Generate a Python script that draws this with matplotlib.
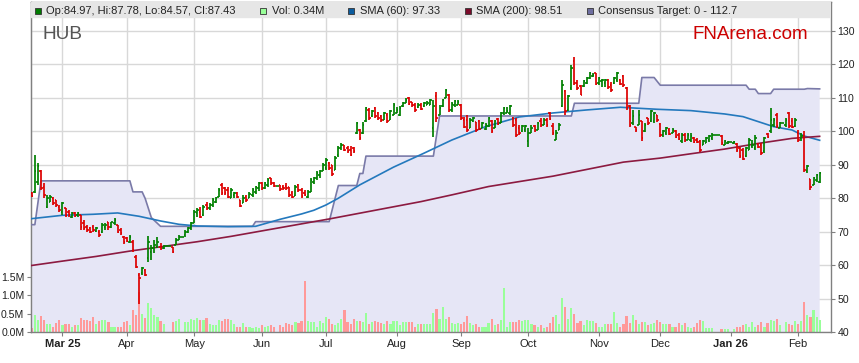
import matplotlib
matplotlib.use('Agg')
import matplotlib.pyplot as plt
from matplotlib.patches import Rectangle
import numpy as np
import pandas as pd

plt.rcParams['font.family'] = ['Liberation Sans', 'DejaVu Sans']

# trading days (weekdays) shown on the chart
dates = pd.bdate_range('2025-02-17', '2026-02-11')

opens = [81.5, 82, 85, 88, 83.5, 77.5, 79, 80, 79.5, 77.5,
         76, 77, 76, 74.5, 75.5, 75, 75, 72.5, 71.5, 71,
         71.5, 70.3, 70, 70, 71.5, 72.8, 71.5, 72.5, 72, 70.5,
         68.5, 68, 67, 67, 62.5, 57, 57.5, 58.5, 62, 64,
         65, 65.5, 65.5, 65, 65.6, 65.6, 65.5, 66, 67.5, 68.5,
         69, 70, 71, 72.5, 75.5, 76, 75, 78, 77, 78,
         79, 80.5, 84, 83, 82.5, 80, 81, 81.5, 79.5, 78.5,
         80.5, 80, 81, 82, 83, 84.5, 83, 84, 86, 84.5,
         83.8, 84, 83.5, 83.8, 83.5, 81.5, 80.8, 84, 82.5, 81.5,
         80.5, 82, 85, 86, 87, 88, 89, 90.5, 90, 88.5,
         93, 95, 96, 95, 94.5, 95, 99.5, 100.4, 99.5, 103,
         106.5, 104.5, 107, 105.5, 104.5, 103.5, 105, 103.5, 105, 105.5,
         105, 107.5, 108.5, 110, 108.8, 108, 107.2, 108, 107.5, 107.9,
         108, 101, 110.5, 105, 107.5, 110, 111, 106.5, 107.8, 108,
         108, 103.5, 103.5, 101, 103, 102.7, 103, 101, 100.8, 101.5,
         103, 101, 103.7, 102.5, 105.5, 105.5, 105.5, 104, 103.5, 101,
         100, 100.5, 97, 99.5, 101.5, 100.5, 103, 102, 103.5, 105.5,
         101.5, 97.5, 100.5, 107.5, 112, 106.5, 113, 121, 114.5, 113.5,
         113.5, 114.5, 116, 116.5, 117.3, 114.5, 115, 114.5, 115.5, 114,
         114.5, 115.5, 115.5, 116.5, 113, 107.5, 102.5, 101.3, 102, 103,
         100, 104, 103, 103, 104.8, 102.3, 99, 99.5, 100.5, 99.5,
         100, 99, 97, 99, 97.5, 97.5, 98, 97.5, 97, 96,
         96.5, 97.5, 98, 99, 99, 98.5, 96, 96.6, 96.8, 96.6,
         96.3, 95, 94.5, 92.5, 94.5, 95.5, 95, 96.3, 96, 94,
         99.3, 100, 102, 105, 101, 102.5, 102, 105.5, 103, 101.5,
         99.5, 98, 98.5, 88, 85.8, 84, 85.5, 84.97]

highs = [81.8, 93, 90.5, 88.5, 84.5, 81, 81, 80.4, 79.5, 78,
         79, 77, 76.5, 76, 75.8, 76, 75, 73.5, 72, 71.5,
         72, 71.5, 70.5, 72.5, 72.5, 73, 73, 74, 72, 71,
         68.8, 68.5, 69, 67.5, 63, 57.5, 59.5, 58.8, 68.6, 66,
         67.5, 68.5, 66.5, 66, 65.6, 65.6, 65.5, 68, 69, 68.5,
         70.5, 71.5, 73, 76.5, 77, 77.5, 78, 79, 78.6, 80,
         80.5, 83, 84.5, 83.5, 83.3, 83.2, 81.8, 82, 79.5, 81,
         81, 81.8, 83, 83.8, 84.8, 84.8, 85, 86, 86.2, 85,
         83.8, 84, 84, 84.5, 83.5, 82.3, 84, 84.2, 83, 82.4,
         82.4, 86, 86.4, 88, 88.4, 90.4, 92, 90.8, 90, 92.5,
         95.5, 96.4, 96, 95.5, 95.5, 95.3, 102.9, 100.6, 102.9, 107.4,
         106.9, 106.4, 107.4, 105.9, 104.9, 105.9, 105.4, 106.4, 108.4, 107.2,
         107.6, 108.9, 109.9, 110.2, 108.9, 108.4, 108.4, 108.4, 108.9, 109,
         109.8, 109.4, 111.8, 107.8, 109.8, 112.8, 111.3, 108.8, 109.3, 109.3,
         108.3, 104.4, 104.9, 103.9, 104.4, 102.9, 103.4, 102.9, 102.4, 104.4,
         103.4, 103.4, 103.9, 105.9, 107.4, 107.4, 107.9, 104.4, 103.9, 101.9,
         101.9, 101.9, 100.9, 101.9, 101.9, 102.9, 103.9, 103.9, 103.9, 105.9,
         102.4, 100.4, 102.4, 115.3, 112.3, 111, 119.8, 122.3, 115.3, 113.8,
         115.3, 116.3, 117.8, 117.3, 117.3, 116.3, 115.8, 115.8, 115.8, 114.8,
         116.3, 117.8, 115.8, 117, 113.3, 107.9, 106.4, 101.4, 106.4, 103,
         102.4, 104, 106.4, 105.9, 104.9, 102.4, 100.4, 101.4, 100.9, 100.9,
         100.4, 99.4, 99.4, 99.4, 99.4, 99.4, 98.4, 97.9, 97.4, 97.4,
         98.4, 98.9, 99.4, 99, 99, 98.9, 97.4, 97, 96.8, 97,
         96.4, 95.4, 94.9, 95.4, 97.9, 97.4, 98.9, 96.4, 96.4, 98.4,
         99.4, 106.9, 103.9, 105.4, 102.9, 102.5, 103.9, 105.9, 103.9, 103.9,
         100.4, 99.4, 100, 89.9, 85.9, 86.4, 87.1, 87.78]

lows = [80.4, 81.5, 84, 82.5, 80, 77, 79, 78, 77.5, 76,
        75, 74.5, 74.5, 74, 74.5, 74.5, 70.5, 70.5, 70, 69.5,
        70, 70, 68.5, 69.5, 70.5, 70.5, 71, 72, 69.5, 69,
        66.4, 67, 66.5, 64, 59, 48.5, 57, 56.6, 61, 61.5,
        63.5, 65, 64.4, 64.8, 65.6, 65.6, 63.6, 66, 67.5, 68.5,
        68.5, 69.5, 70.5, 72.5, 74.5, 74, 74.8, 76.5, 76.4, 77.5,
        78.5, 80.4, 81, 81, 80, 80, 80.2, 80, 77.3, 78.5,
        79, 80, 80.5, 81.2, 82.2, 82.5, 82.8, 83.5, 84, 83.3,
        83.8, 82.3, 82.5, 82.5, 80.5, 80.2, 80.6, 82, 80.2, 80.6,
        80.2, 82, 84.4, 85.4, 86, 88, 88.4, 88.4, 86.6, 88.5,
        92.2, 94.4, 94, 93.5, 92.5, 93.6, 99.3, 97.4, 99.3, 102.9,
        103.4, 104.4, 103.9, 103.4, 102.9, 103.4, 102.6, 103.4, 104.9, 105.4,
        104.6, 107.4, 108.4, 107.9, 107.4, 105.9, 106.9, 106.4, 107.4, 107.8,
        107.8, 98.4, 102.9, 105, 107.3, 110, 105.8, 105.8, 107.3, 107.8,
        103.4, 100.9, 99.9, 100.9, 102.9, 99.9, 100.4, 100.9, 100.4, 101.4,
        99.4, 100.9, 101.9, 102.4, 104.9, 105.4, 104.9, 101.4, 98.4, 98.9,
        99.9, 99.9, 95.4, 99.4, 99.9, 100.4, 101.4, 101.9, 101.4, 103.4,
        98.9, 97.4, 100.4, 107.3, 104.9, 106, 112.3, 113.8, 112.3, 110.8,
        113.3, 114.3, 115.8, 116.3, 113.8, 113.8, 113.3, 113.3, 112.8, 111.8,
        114.3, 114.8, 113.8, 113.3, 106.4, 101.4, 101.9, 99.9, 101.9, 97,
        99.9, 101.9, 102.9, 102.4, 102.9, 98.4, 98.4, 98.9, 98.9, 99.4,
        97.9, 97.4, 96.4, 96.9, 97.4, 96.9, 96.4, 96.4, 93.9, 95.9,
        96.4, 96.9, 97.4, 99, 99, 95.9, 95.9, 96.2, 96.8, 96.2,
        93.9, 91.9, 91.3, 92.4, 94.4, 94.9, 94.4, 94.9, 92.9, 93.4,
        97.9, 99.4, 101.4, 100.9, 100.9, 102.5, 101.4, 100.9, 100.9, 101.4,
        96.8, 97, 87.9, 87.4, 82.6, 83.9, 84.9, 84.57]

closes = [80.8, 88, 89.5, 83, 81, 80, 80.5, 78.5, 78, 76.5,
          78.5, 75, 75, 75.5, 74.8, 75.5, 71.5, 71, 70.5, 70,
          70.5, 71, 69, 72, 72, 71.5, 72.8, 73.5, 70, 69.5,
          67, 67.3, 68.5, 64.5, 59.5, 56, 59, 57, 67, 65,
          66, 67, 65, 65.6, 65.6, 65.6, 64, 67.5, 68.5, 68.5,
          70, 71, 72.5, 76, 76.5, 74.5, 77.5, 77, 78, 79.5,
          80, 82.5, 81.5, 81.5, 80.5, 82.5, 81.5, 80.5, 77.8, 80,
          79.5, 81.3, 82.5, 83.5, 84.5, 83, 84.5, 85.5, 84.5, 83.8,
          83.8, 82.8, 83, 83.2, 81, 80.5, 83.5, 82.5, 80.8, 81,
          82, 85.5, 86, 87.5, 88, 90, 91.5, 89, 87.2, 92,
          95, 96, 94.5, 94, 93, 94, 102.5, 98, 102, 107,
          104, 106, 104.5, 104, 103.3, 105.5, 103, 106, 108, 106.5,
          107, 108.5, 109.5, 108.2, 107.8, 106.3, 108, 106.8, 108.5, 108.6,
          109.4, 107.5, 104, 107, 109.3, 112.3, 106.3, 108.3, 109, 108.8,
          104, 101.3, 100.5, 103.5, 104, 100.3, 100.8, 102.5, 102, 104,
          100, 103, 102.3, 105.5, 107, 106, 107.5, 102, 99, 99.5,
          101.5, 101.5, 99.5, 101, 100.3, 102.5, 101.8, 103.5, 102, 103.8,
          99.5, 99.5, 102, 114, 106, 110.5, 119, 114.5, 113, 111,
          115, 116, 117.5, 117, 114.3, 116, 115.5, 115.5, 113.3, 112.3,
          116, 117.3, 114.3, 113.8, 107, 102, 104.5, 100.3, 105, 98,
          102, 102.5, 106, 105.5, 103.3, 99, 100, 101, 99.3, 100.5,
          98.3, 97.8, 99, 97.3, 99, 98.5, 96.8, 96.8, 94.5, 97,
          98, 98.5, 99, 99, 99, 96.5, 97, 96.8, 96.8, 96.9,
          94.3, 92.5, 91.8, 95, 97.5, 96, 98, 95.3, 93.5, 98,
          98.3, 103.5, 103.5, 101.5, 102.5, 102.5, 103.5, 101.5, 101.3, 103.5,
          97.5, 98.5, 88.5, 89.5, 83.5, 86, 86.8, 87.43]

# volume in millions (0 on public holidays)
volume = [0.12, 0.46, 0.32, 0.43, 0.32, 0.23, 0.21, 0.15, 0.25, 0.34,
          0.18, 0.23, 0.23, 0.15, 0.18, 0.18, 0.39, 0.32, 0.32, 0.30,
          0.41, 0.21, 0.30, 0.34, 0.34, 0.27, 0.15, 0.15, 0.15, 0.15,
          0.27, 0.30, 0.18, 0.59, 0.46, 1.09, 0.50, 0.38, 0.79, 0.66,
          0.46, 0.41, 0.29, 0.21, 0, 0, 0.27, 0.30, 0.36, 0,
          0.27, 0.27, 0.35, 0.32, 0.39, 0.34, 0.32, 0.38, 0.21, 0.18,
          0.18, 0.32, 0.30, 0.35, 0.36, 0.34, 0.21, 0.14, 0.15, 0.25,
          0.15, 0.15, 0.11, 0.14, 0.11, 0.18, 0.14, 0.16, 0.18, 0.15,
          0, 0.18, 0.15, 0.25, 0.23, 0.18, 0.27, 0.25, 0.30, 1.38,
          0.30, 0.27, 0.27, 0.14, 0.30, 0.25, 0.41, 0.35, 0.21, 0.18,
          0.25, 0.36, 0.59, 0.27, 0.21, 0.36, 0.30, 0.29, 0.27, 0.52,
          0.21, 0.27, 0.30, 0.27, 0.25, 0.21, 0.29, 0.21, 0.30, 0.30,
          0.18, 0.27, 0.27, 0.27, 0.27, 0.15, 0.21, 0.21, 0.23, 0.21,
          0.23, 0.52, 0.62, 0.35, 0.68, 0.35, 0.41, 0.25, 0.21, 0.25,
          0.21, 0.27, 0.43, 0.25, 0.18, 0.21, 0.15, 0.14, 0.15, 0.25,
          0.35, 0.18, 0.21, 0.32, 1.20, 0.15, 0.27, 0.27, 0.27, 0.32,
          0.30, 0.32, 0.32, 0.21, 0.18, 0.15, 0.18, 0.11, 0.15, 0.25,
          0.41, 0.46, 0.23, 0.93, 0.68, 0.36, 0.66, 0.50, 0.25, 0.29,
          0.18, 0.32, 0.30, 0.30, 0.25, 0.15, 0.15, 0.21, 0.21, 0.23,
          0.56, 0.25, 0.15, 0.21, 0.43, 0.25, 0.46, 0.32, 0.23, 0.27,
          0.27, 0.18, 0.23, 0.25, 0.32, 0.27, 0.21, 0.21, 0.21, 0.14,
          0.15, 0.25, 0.18, 0.25, 0.15, 0.11, 0.14, 0.25, 0.34, 0.30,
          0.11, 0.12, 0.11, 0, 0, 0.07, 0.09, 0.09, 0, 0.07,
          0.14, 0.15, 0.18, 0.21, 0.15, 0.27, 0.15, 0.18, 0.27, 0.15,
          0.25, 0.32, 0.30, 0.36, 0.18, 0, 0.27, 0.21, 0.18, 0.30,
          0.21, 0.30, 0.82, 0.46, 0.42, 0.59, 0.40, 0.34]

sma60_x = [0, 10, 20, 28, 35, 42, 48, 54, 64, 73, 81, 88, 92, 96, 100, 107, 118,
           128, 137, 148, 159, 170, 181, 192, 204, 215, 226, 232, 237, 242, 248, 252, 257]
sma60_y = [73.9, 74.9, 75.2, 75.6, 74.6, 73.2, 72.2, 71.7, 71.5, 71.6, 73.7, 75.3, 76.4,
           78, 80, 84, 89.3, 93.5, 97.4, 101.4, 104.3, 105.5, 106.4, 107.2, 106.6, 106.2,
           105.2, 104.4, 102.9, 101.4, 100.4, 98.6, 97.33]

sma200_x = [0, 10, 21, 32, 43, 54, 65, 97, 127, 137, 149, 170, 193, 205, 215, 226, 237, 248, 257]
sma200_y = [59.9, 61.2, 62.6, 64.2, 65.6, 67, 68.6, 73.8, 79, 81, 83.5, 86.6, 90.8, 92,
            93.3, 94.7, 96.4, 97.9, 98.51]

target_x = [0, 1, 3, 32, 33, 36, 37, 39, 42, 72, 73, 97, 100, 106, 107, 108, 109, 131, 133,
            176, 177, 198, 199, 203, 205, 233, 234, 236, 237, 241, 242, 252, 253, 257]
target_y = [72.1, 72.1, 85.2, 85.2, 81.9, 81.9, 79.9, 74.2, 71.6, 71.6, 73, 73, 83.8, 83.8,
            87.4, 87.4, 92.6, 92.6, 104.6, 104.6, 108.4, 108.4, 116.1, 116.1, 113.8, 113.8,
            112.6, 112.6, 111.3, 111.3, 112.6, 112.6, 112.8, 112.7]

month_labels = ['Mar 25', 'Apr', 'May', 'Jun', 'Jul', 'Aug', 'Sep', 'Oct', 'Nov', 'Dec', 'Jan 26', 'Feb']
price_ticks = list(range(40, 131, 10))
vol_ticks = [0, 0.5, 1.0, 1.5]

legend_labels = ['Op:84.97, Hi:87.78, Lo:84.57, Cl:87.43', 'Vol: 0.34M', 'SMA (60): 97.33',
                 'SMA (200): 98.51', 'Consensus Target: 0 - 112.7']
legend_colors = ['#007A00', '#99FF99', '#0B5C9E', '#7A0A2A', '#6E6EA0']
legend_px = [35, 260, 348, 465, 587]

W, H = 859, 363
VOL_K = 10.945   # price units per 1M of volume (volume drawn from the 40 baseline)
fig = plt.figure(figsize=(W / 100, H / 100), dpi=100)
ax = fig.add_axes([30.5 / W, 1 - 332 / H, (831 - 30.5) / W, (332 - 2) / H])

o, h, l, c = map(np.array, (opens, highs, lows, closes))
vol = np.array(volume)
idx = np.arange(len(c))
up = c >= o

ax.set_xlim(-0.42, 260.7)
ax.set_ylim(40, 138.68)

# grid under everything
month_pos = [i for i in range(1, len(dates)) if dates[i].month != dates[i - 1].month]
ax.set_xticks(month_pos)
ax.set_xticklabels(month_labels)
ax.set_yticks(price_ticks)
ax.grid(True, color='#D8D8D8', lw=1.0)
ax.set_axisbelow(True)

# consensus target band
ax.fill_between(target_x, 0, target_y, color='#E6E6F6', lw=0, zorder=1)
ax.plot(target_x, target_y, color='#7A7AA8', lw=1.2, zorder=3)

# volume
ax.bar(idx, vol * VOL_K, bottom=40, width=0.7,
       color=np.where(up, '#99FF99', '#FF9999'), zorder=2)

# moving averages
ax.plot(sma60_x, sma60_y, color='#2479BD', lw=1.2, zorder=3)
ax.plot(sma200_x, sma200_y, color='#8C1A40', lw=1.2, zorder=3)

# OHLC bars
col = np.where(up, '#008000', '#DD0000')
ax.vlines(idx, l, h, colors=col, lw=1.25, zorder=4)
ax.hlines(o, idx - 0.5, idx, colors=col, lw=1.2, zorder=4)
ax.hlines(c, idx, idx + 0.5, colors=col, lw=1.2, zorder=4)

# header band
ax.axhspan(134.2, 138.68, color='#E6E6E6', zorder=6)
for lab, colr, px in zip(legend_labels, legend_colors, legend_px):
    fig.patches.append(Rectangle((px / W, 1 - 13.5 / H), 6 / W, 6 / H, transform=fig.transFigure,
                                 facecolor=colr, edgecolor='#333333', lw=0.6, zorder=10))
    fig.text((px + 11.5) / W, 1 - 10.5 / H, lab, fontsize=8, color='#222222', va='center', zorder=10)

fig.text(42 / W, 1 - 39 / H, 'HUB', fontsize=13.7, color='#555555', va='baseline')
fig.text(692 / W, 1 - 39 / H, 'FNArena.com', fontsize=13.5, color='#CC0000', va='baseline')

# axes styling
for s in ax.spines.values():
    s.set_color('#808080')
    s.set_linewidth(1)
ax.yaxis.tick_right()
ax.tick_params(axis='y', direction='out', length=3, width=0.8, color='#808080',
               labelcolor='#222222', labelsize=7.6, pad=1.5)
ax.tick_params(axis='x', direction='out', length=3, width=0.8, color='#808080',
               labelcolor='#222222', labelsize=8, pad=2)
for t in ax.get_xticklabels():
    if ' ' in t.get_text():
        t.set_fontweight('bold')

sec = ax.secondary_yaxis('left', functions=(lambda p: (p - 40) / VOL_K, lambda v: 40 + v * VOL_K))
sec.set_yticks(vol_ticks)
sec.set_yticklabels([f'{v:.1f}M' for v in vol_ticks])
sec.tick_params(direction='out', length=3, width=0.8, color='#808080',
                labelcolor='#222222', labelsize=7.6, pad=1.5)
sec.spines['left'].set_color('#808080')

fig.savefig('out.png', dpi=100)
